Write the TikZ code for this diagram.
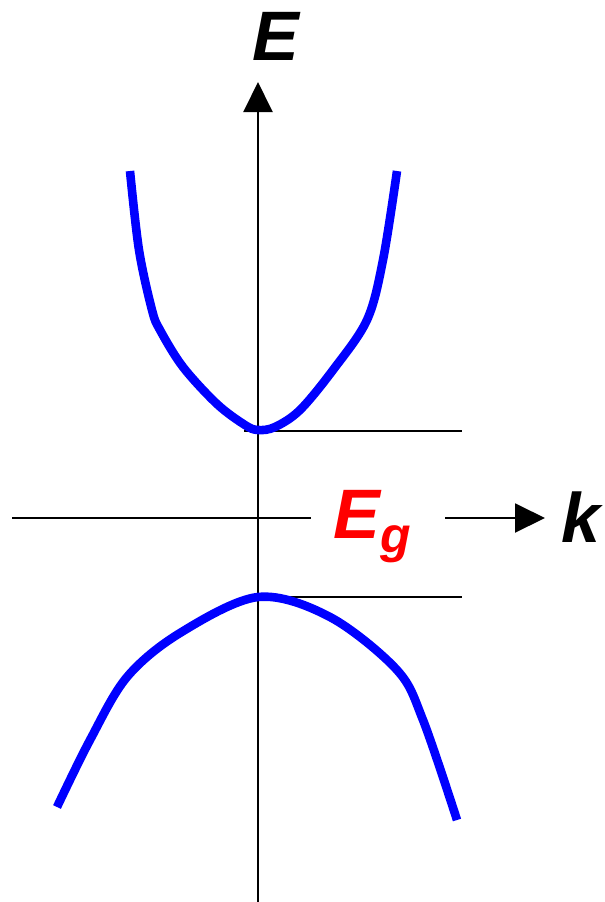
\documentclass[tikz,border=0pt]{standalone}
\usepackage{fontspec}
\setmainfont{Liberation Sans}
\usetikzlibrary{arrows.meta}
\definecolor{bandblue}{RGB}{0,0,255}
\definecolor{gapred}{RGB}{255,0,0}
\tikzset{>={Triangle[length=15pt,width=14.5pt]},
  axis/.style={->,draw=black,line width=1pt},
  level/.style={draw=black,line width=1pt},
  band/.style={draw=bandblue,line width=4.3pt,smooth,tension=.55},
  biglabel/.style={inner sep=0pt,font=\fontsize{35}{40}\selectfont\bfseries\itshape}}

\begin{document}
\begin{tikzpicture}[x=0.5pt,y=-0.5pt]
\useasboundingbox (0,0) rectangle (605,902);
% axes
\coordinate (eb) at (258,902);
\coordinate (et) at (258,82);
\draw[axis] (eb) -- (et);
\node[biglabel,anchor=base west] (elab) at (252,60) {E};
\node[biglabel,anchor=base west,text=gapred] (eg) at (333,538)
  {E\raisebox{-7pt}{\fontsize{25}{28}\selectfont g}};
\node[biglabel,anchor=base west] (klab) at (561,542) {k};
\coordinate (kl) at (12,518);
\coordinate (kgl) at (311,518);
\coordinate (kgr) at (445,518);
\coordinate (kr) at (545,518);
\draw[level] (kl) -- (kgl);
\draw[axis] (kgr) -- (kr);
% band edges
\coordinate (cmin) at (244,431);
\coordinate (cend) at (462,431);
\coordinate (vmax) at (244,597);
\coordinate (vend) at (462,597);
\draw[level] (cmin) -- (cend);
\draw[level] (vmax) -- (vend);
% conduction band
\draw[band] plot coordinates {(130,171) (139,250) (152,310) (160,330) (183,367)
  (217,404) (245,425) (258,430) (275,427) (300,410) (333,370) (367,320) (383,260) (397,171)};
% valence band
\draw[band] plot coordinates {(57,807) (90,740) (127,677) (180,633) (258,597)
  (330,617) (397,670) (423,720) (457,820)};
\end{tikzpicture}
\end{document}
